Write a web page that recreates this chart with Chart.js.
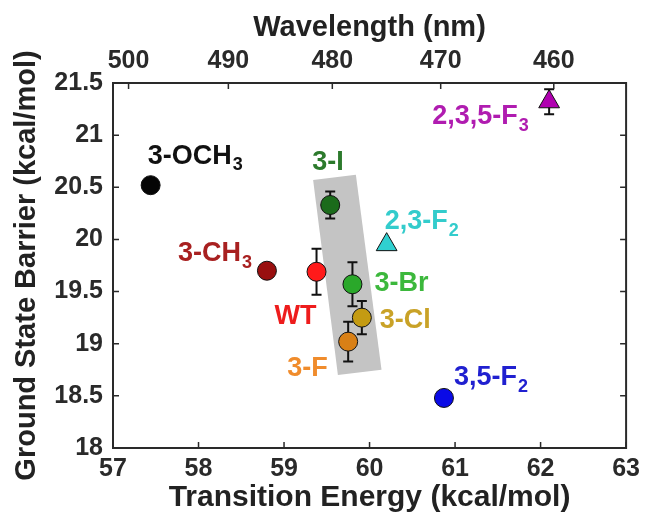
<!DOCTYPE html>
<html lang="en">
<head>
<meta charset="UTF-8">
<title>Ground State Barrier vs Transition Energy</title>
<script src="https://cdn.jsdelivr.net/npm/chart.js"></script>
<style>
  body { margin: 0; background: #fff; }
</style>
</head>
<body>
<canvas id="chart" width="646" height="517"></canvas>
<script>
// data
const variants = ['3-OCH3', '3-I', '2,3-F2', '3-CH3', 'WT', '3-Br', '3-Cl', '3-F', '3,5-F2', '2,3,5-F3'];
const transitionEnergy = [57.44, 59.54, 60.20, 58.80, 59.38, 59.80, 59.91, 59.75, 60.87, 62.10];
const groundBarrier = [20.52, 20.33, 19.95, 19.70, 19.69, 19.57, 19.25, 19.02, 18.48, 21.32];
const barrierError = [0.05, 0.13, 0, 0.03, 0.22, 0.21, 0.16, 0.19, 0.03, 0.12];
const wavelengthTicks = [500, 490, 480, 470, 460];
// shaded halogen band (corners, kcal/mol)
const bandEnergy = [59.34, 59.84, 60.14, 59.63];
const bandBarrier = [20.57, 20.62, 18.75, 18.70];

const HC = 28591; // nm * kcal/mol

// marker + label styles, same order as variants
const styles = [
  { fill: '#050505', text: '#111111', shape: 'circle',   dx: -3,   dy: -29 },
  { fill: '#1b6b1b', text: '#2c7a2c', shape: 'circle',   dx: -18,  dy: -42 },
  { fill: '#2fd0d0', text: '#33cccc', shape: 'triangle', dx: -2,   dy: -23 },
  { fill: '#990f0f', text: '#a82020', shape: 'circle',   dx: -89,  dy: -17 },
  { fill: '#ff1a1a', text: '#ee1c1c', shape: 'circle',   dx: -42,  dy: 45 },
  { fill: '#2aa82a', text: '#3cb83c', shape: 'circle',   dx: 22,   dy: -1 },
  { fill: '#c49b12', text: '#c9a227', shape: 'circle',   dx: 18,   dy: 3 },
  { fill: '#d98016', text: '#f08c2c', shape: 'circle',   dx: -61,  dy: 27 },
  { fill: '#0a0ae6', text: '#2020d0', shape: 'circle',   dx: 10,   dy: -20 },
  { fill: '#b000b0', text: '#b01cb0', shape: 'triangle', dx: -117, dy: 15 }
];

Chart.defaults.font.family = "'Liberation Sans', Arial, sans-serif";
Chart.defaults.color = '#222';

const bandPlugin = {
  id: 'band',
  beforeDatasetsDraw(chart) {
    const { ctx, scales: { x, y } } = chart;
    ctx.save();
    ctx.fillStyle = '#c4c4c4';
    ctx.beginPath();
    bandEnergy.forEach((e, i) => {
      const px = x.getPixelForValue(e), py = y.getPixelForValue(bandBarrier[i]);
      if (i === 0) ctx.moveTo(px, py); else ctx.lineTo(px, py);
    });
    ctx.closePath();
    ctx.fill();

    // error bars under markers
    ctx.strokeStyle = '#111';
    ctx.lineWidth = 2;
    transitionEnergy.forEach((e, i) => {
      if (!barrierError[i]) return;
      const px = x.getPixelForValue(e);
      const lo = y.getPixelForValue(groundBarrier[i] - barrierError[i]);
      const hi = y.getPixelForValue(groundBarrier[i] + barrierError[i]);
      ctx.beginPath();
      ctx.moveTo(px, lo); ctx.lineTo(px, hi);
      ctx.moveTo(px - 5, lo); ctx.lineTo(px + 5, lo);
      ctx.moveTo(px - 5, hi); ctx.lineTo(px + 5, hi);
      ctx.stroke();
    });
    ctx.restore();
  }
};

const labelPlugin = {
  id: 'labels',
  afterDatasetsDraw(chart) {
    const { ctx, scales: { x, y } } = chart;
    ctx.save();
    ctx.textBaseline = 'middle';
    ctx.textAlign = 'left';
    variants.forEach((name, i) => {
      const s = styles[i];
      const px = x.getPixelForValue(transitionEnergy[i]) + s.dx;
      const py = y.getPixelForValue(groundBarrier[i]) + s.dy;
      const m = name.match(/^(.*[A-Z])(\d)$/);
      const main = m ? m[1] : name;
      ctx.fillStyle = s.text;
      ctx.font = "bold 27px 'Liberation Sans', Arial, sans-serif";
      ctx.fillText(main, px, py);
      if (m) {
        const w = ctx.measureText(main).width;
        ctx.font = "bold 18px 'Liberation Sans', Arial, sans-serif";
        ctx.fillText(m[2], px + w + 1, py + 9);
      }
    });
    ctx.restore();
  }
};

const framePlugin = {
  id: 'frame',
  afterDraw(chart) {
    const { ctx, chartArea: a, scales } = chart;
    ctx.save();
    ctx.strokeStyle = '#2a2a2a';
    ctx.lineWidth = 2;
    ctx.strokeRect(a.left, a.top, a.right - a.left, a.bottom - a.top);
    ctx.lineWidth = 1.5;
    const t = 6;
    ctx.beginPath();
    scales.x.ticks.forEach(tk => {
      const px = scales.x.getPixelForValue(tk.value);
      ctx.moveTo(px, a.bottom); ctx.lineTo(px, a.bottom - t);
    });
    scales.x2.ticks.forEach(tk => {
      const px = scales.x2.getPixelForValue(tk.value);
      ctx.moveTo(px, a.top); ctx.lineTo(px, a.top + t);
    });
    scales.y.ticks.forEach(tk => {
      const py = scales.y.getPixelForValue(tk.value);
      ctx.moveTo(a.left, py); ctx.lineTo(a.left + t, py);
      ctx.moveTo(a.right, py); ctx.lineTo(a.right - t, py);
    });
    ctx.stroke();
    ctx.restore();
  }
};

const tickFont = { size: 25, weight: 'bold' };
const titleFont = { size: 29, weight: 'bold' };
const noGrid = { display: false, drawTicks: false };

new Chart(document.getElementById('chart'), {
  type: 'scatter',
  data: {
    datasets: [{
      label: 'variants',
      data: variants.map((v, i) => ({ x: transitionEnergy[i], y: groundBarrier[i] })),
      pointStyle: styles.map(s => s.shape),
      pointRadius: styles.map(s => s.shape === 'triangle' ? 12 : 9.5),
      pointBackgroundColor: styles.map(s => s.fill),
      pointBorderColor: '#111',
      pointBorderWidth: 1
    }]
  },
  options: {
    responsive: false,
    animation: false,
    layout: { padding: { right: 19, left: 0, top: 0, bottom: 0 } },
    plugins: { legend: { display: false }, tooltip: { enabled: false } },
    scales: {
      x: {
        type: 'linear', position: 'bottom', min: 57, max: 63,
        ticks: { stepSize: 1, padding: 6, font: tickFont, color: '#2a2a2a', maxRotation: 0 },
        grid: noGrid, border: { display: false },
        title: { display: true, text: 'Transition Energy (kcal/mol)', font: { size: 30, weight: 'bold' }, color: '#222', padding: { top: 0, bottom: 1 } },
        afterFit: s => { s.height = 69; }
      },
      x2: {
        type: 'linear', position: 'top', min: 57, max: 63,
        afterBuildTicks: s => { s.ticks = wavelengthTicks.map(w => ({ value: HC / w })); },
        ticks: { callback: v => String(Math.round(HC / v)), padding: 7, font: tickFont, color: '#2a2a2a', autoSkip: false, maxRotation: 0 },
        grid: noGrid, border: { display: false },
        title: { display: true, text: 'Wavelength (nm)', font: titleFont, color: '#222', padding: { top: 11, bottom: 0 } },
        afterFit: s => { s.height = 83; }
      },
      y: {
        min: 18, max: 21.5,
        ticks: { stepSize: 0.5, padding: 10, font: tickFont, color: '#2a2a2a', callback: v => String(v) },
        grid: noGrid, border: { display: false },
        title: { display: true, text: 'Ground State Barrier (kcal/mol)', font: titleFont, color: '#222', padding: { top: 10, bottom: 0 } },
        afterFit: s => { s.width = 113; }
      }
    }
  },
  plugins: [bandPlugin, labelPlugin, framePlugin]
});
</script>
</body>
</html>
